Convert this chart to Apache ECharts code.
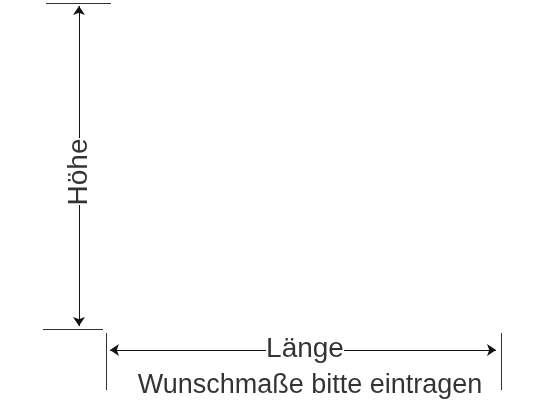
<!DOCTYPE html>
<html><head><meta charset="utf-8">
<script src="https://cdn.jsdelivr.net/npm/echarts@6/dist/echarts.min.js"></script>
<style>html,body{margin:0;padding:0;background:#fff}#c{width:560px;height:420px}</style>
</head><body><div id="c"></div>
<script>
// plain guide lines [x1,y1,x2,y2]
const guides = [[46,3,111,3],[43,329,103,329],[106,333,106,390],[501,333,501,390]];
// arrow segments, arrowhead at end point
const arrows = [[79,138,79,6],[79,205,79,326],[266,350,110,350],[344,350,496,350]];
const labels = [
  {name:'Höhe', x:79, y:172, size:28, rotate:90},
  {name:'Länge', x:305, y:349, size:28, rotate:0},
  {name:'Wunschmaße bitte eintragen', x:310, y:386, size:27, rotate:0}
];
const chart = echarts.init(document.getElementById('c'));
const toLines = a => a.map(s => ({coords:[[s[0],s[1]],[s[2],s[3]]]}));
chart.setOption({
  animation:false,
  grid:{left:0,right:0,top:0,bottom:0},
  xAxis:{type:'value',min:0,max:560,show:false},
  yAxis:{type:'value',min:0,max:420,inverse:true,show:false},
  series:[
    {type:'lines',coordinateSystem:'cartesian2d',data:toLines(guides),
     lineStyle:{color:'#333',width:1,opacity:1},symbol:['none','none']},
    {type:'lines',coordinateSystem:'cartesian2d',data:toLines(arrows),
     lineStyle:{color:'#111',width:1,opacity:1},symbol:['none','arrow'],symbolSize:[0,9]},
    {type:'scatter',symbolSize:0,
     data:labels.map(l=>({value:[l.x,l.y],label:{show:true,position:'inside',formatter:l.name,
       fontSize:l.size,rotate:l.rotate,color:'#000',fontFamily:'Liberation Sans, Arial'}})),
     label:{show:true}}
  ]
});
</script></body></html>
